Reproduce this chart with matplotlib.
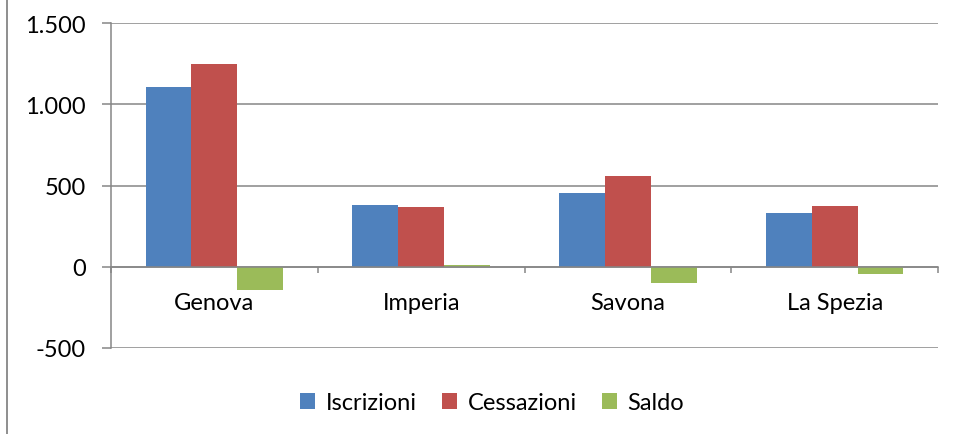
import matplotlib
matplotlib.use("Agg")
import matplotlib.pyplot as plt
import numpy as np
from matplotlib.ticker import FuncFormatter

categories = ["Genova", "Imperia", "Savona", "La Spezia"]
iscrizioni = [1107, 378, 455, 334]
cessazioni = [1248, 368, 561, 374]
saldo = [-141, 10, -102, -43]
series_names = ["Iscrizioni", "Cessazioni", "Saldo"]
colors = ["#4F81BD", "#C0504D", "#9BBB59"]
yticks = [-500, 0, 500, 1000, 1500]

plt.rcParams['font.family'] = ['Lato', 'DejaVu Sans']
grid_c = "#868686"

fig = plt.figure(figsize=(9.55, 4.35), dpi=100)
ax = fig.add_axes([111/955, 1-349/435, (938-111)/955, (349-24.3)/435])

x = np.arange(len(categories))
w = 0.222
handles = []
for i, (vals, c, n) in enumerate(zip([iscrizioni, cessazioni, saldo], colors, series_names)):
    b = ax.bar(x + (i-1)*w, vals, width=w, color=c, label=n, zorder=3)
    handles.append(b)

ax.set_xlim(-0.5, len(categories)-0.5)
ax.set_ylim(-500, 1500)
ax.set_yticks(yticks)
ax.yaxis.set_major_formatter(FuncFormatter(lambda v, p: f"{int(v):,}".replace(",", ".")))
ax.grid(axis='y', color=grid_c, linewidth=1.1, zorder=0)
ax.tick_params(axis='y', direction='out', length=6.3, width=1.1, color=grid_c, pad=12, labelsize=17)

for s in ['top', 'right']:
    ax.spines[s].set_visible(False)
ax.spines['left'].set_color(grid_c)
ax.spines['left'].set_linewidth(1.1)
ax.spines['bottom'].set_position(('data', 0))
ax.spines['bottom'].set_color(grid_c)
ax.spines['bottom'].set_linewidth(1.1)
ax.spines['bottom'].set_zorder(4)

ax.set_xticks(np.arange(-0.5, len(categories)), minor=False)
ax.set_xticklabels([""]*(len(categories)+1))
ax.set_xticks(x, minor=True)
ax.set_xticklabels(categories, minor=True)
ax.tick_params(axis='x', which='major', direction='out', length=4, width=1.1, color=grid_c)
ax.tick_params(axis='x', which='minor', length=0, pad=18, labelsize=17)

# chart border left line
fig.add_artist(plt.Line2D([7/955, 7/955], [0, 1], color=grid_c, linewidth=1.3, transform=fig.transFigure))

fig.legend(handles=handles, labels=series_names, loc='center', bbox_to_anchor=(492/955, 1-404/435),
           ncol=3, frameon=False, fontsize=17, handlelength=0.65, handleheight=0.65,
           handletextpad=0.45, columnspacing=1.05)

fig.savefig("out.png", dpi=100)
